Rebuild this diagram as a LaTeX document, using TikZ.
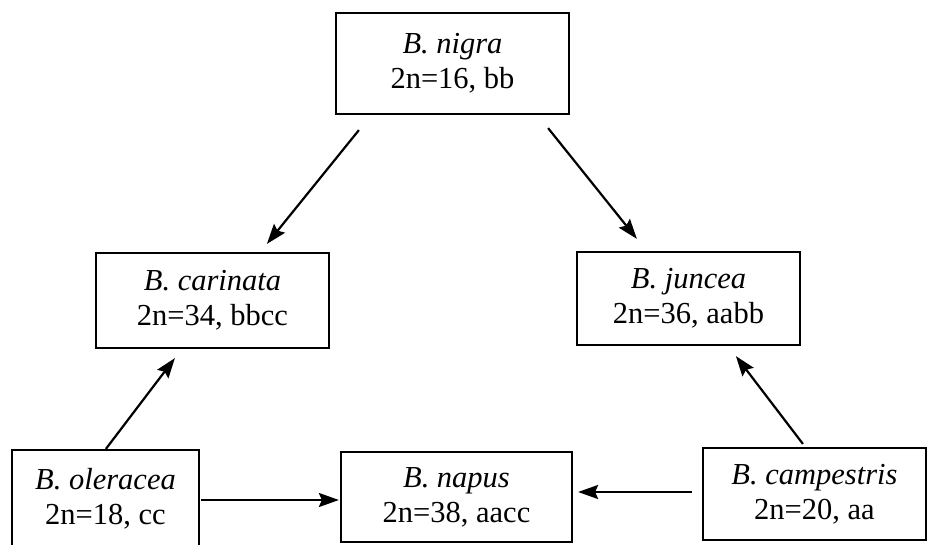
\documentclass[tikz,border=0pt]{standalone}
\usepackage{fontspec}
\setmainfont{Liberation Serif}
\usetikzlibrary{arrows.meta,calc}
\begin{document}
\begin{tikzpicture}[x=1pt,y=-1pt,
  box/.style={draw=black,line width=2.2pt,inner sep=0pt,align=center,
    font=\fontsize{30.5}{35}\selectfont,anchor=center},
  conn/.style={line width=2.2pt,-{Stealth[length=20pt,width=14pt,inset=3pt]}}]
\useasboundingbox (0,0) rectangle (929,544);
\clip (0,0) rectangle (929,544);
\fill[white] (0,0) rectangle (929,544);
\node[box,minimum width=233,minimum height=101] (nigra) at (452.5,63.5) {\textit{B. nigra}\\2n=16, bb};
\node[box,minimum width=233,minimum height=95] (carinata) at (212.5,300.5) {\textit{B. carinata}\\2n=34, bbcc};
\node[box,minimum width=223,minimum height=93] (juncea) at (688.5,298.5) {\textit{B. juncea}\\2n=36, aabb};
\node[box,minimum width=187,minimum height=98] (oleracea) at (105.5,499) {\textit{B. oleracea}\\2n=18, cc};
\node[box,minimum width=231,minimum height=90] (napus) at (456.5,497) {\textit{B. napus}\\2n=38, aacc};
\node[box,minimum width=223,minimum height=92] (campestris) at (814.5,494) {\textit{B. campestris}\\2n=20, aa};
\draw[conn] ($(nigra.south west)+(24,15)$) -- ($(carinata.north west)+(172,-8)$);
\draw[conn] ($(nigra.south east)+(-22,13)$) -- ($(juncea.north west)+(61,-12)$);
\draw[conn] ($(oleracea.north west)+(95,0)$) -- ($(carinata.south west)+(80,9)$);
\draw[conn] ($(oleracea.east)+(1,1)$) -- ($(napus.west)+(-1,3)$);
\draw[conn] ($(campestris.west)+(-10,-2)$) -- ($(napus.east)+(5,-5)$);
\draw[conn] ($(campestris.north west)+(101,-3)$) -- ($(juncea.south west)+(160,10)$);
\end{tikzpicture}
\end{document}
